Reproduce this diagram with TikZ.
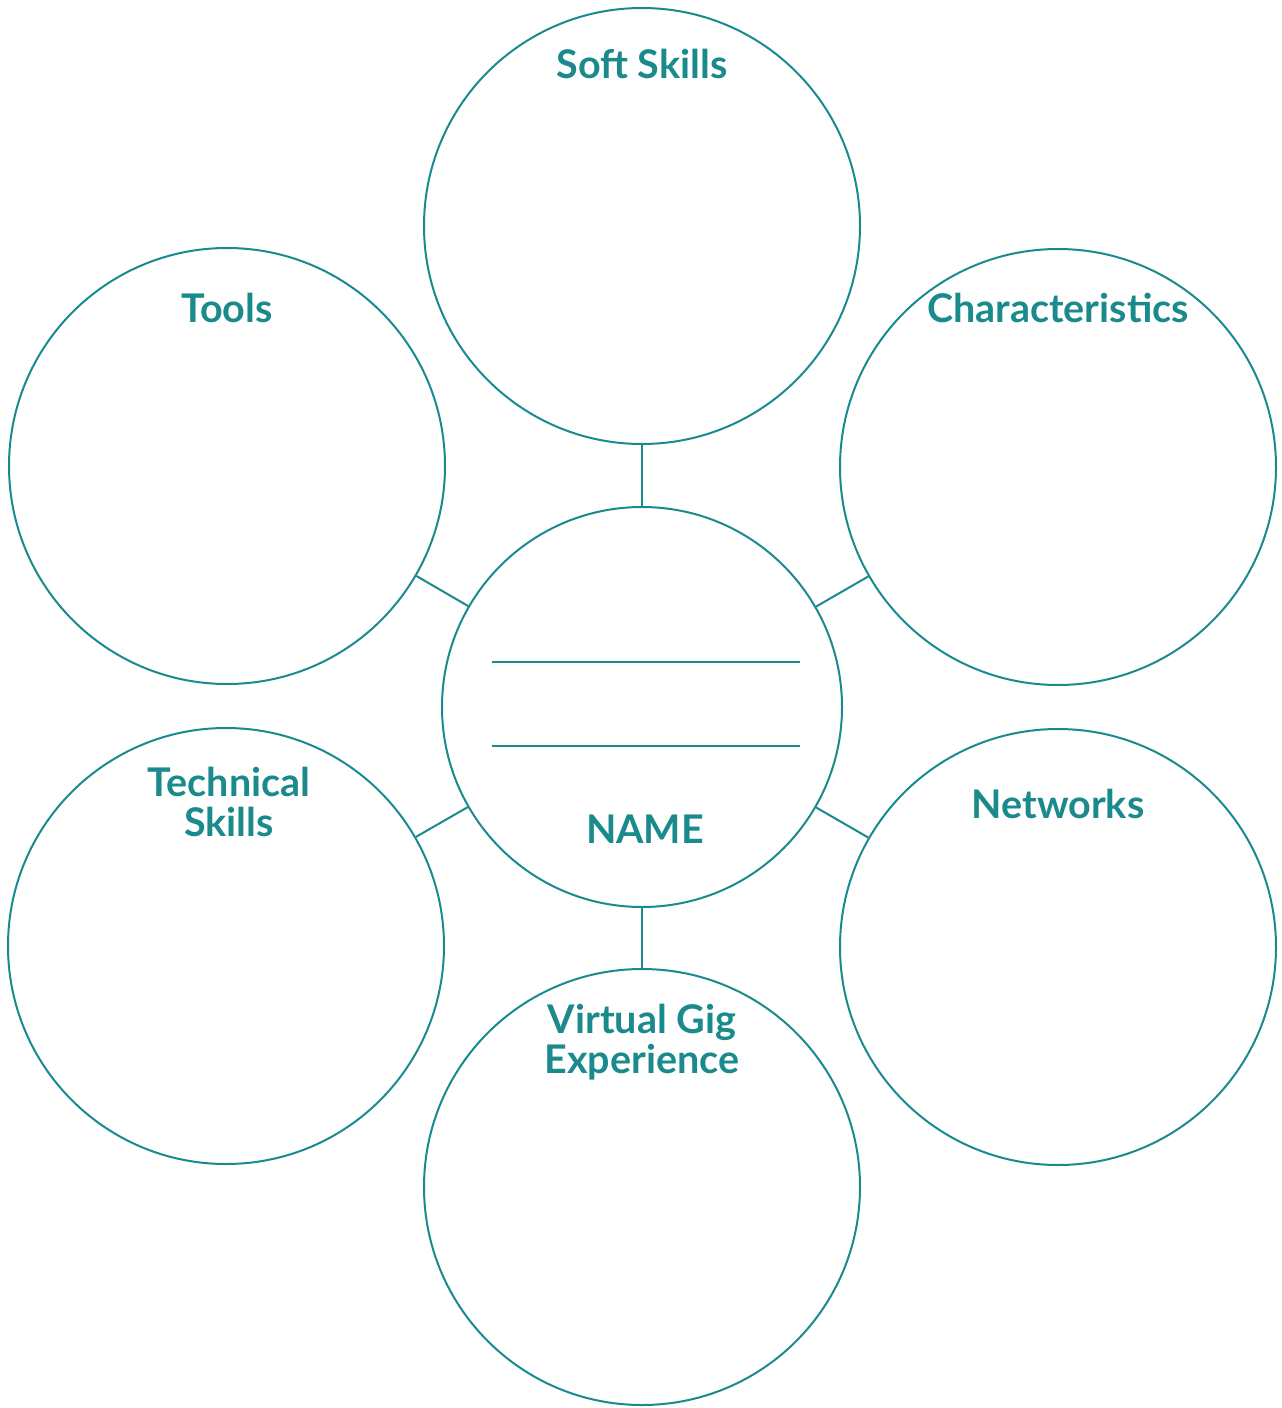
\documentclass[tikz,border=0pt]{standalone}
\usepackage{fontspec}
\setmainfont{Lato}
\definecolor{teal1}{RGB}{26,138,140}
\begin{document}
\begin{tikzpicture}[x=1pt,y=-1pt,
  bubble/.style={circle,draw=teal1,line width=2pt,inner sep=0pt,minimum size=436pt},
  hub/.style={circle,draw=teal1,line width=2pt,inner sep=0pt,minimum size=400pt},
  link/.style={draw=teal1,line width=2pt},
  lbl/.style={text=teal1,font=\fontsize{39.5}{40}\selectfont\bfseries,anchor=base,align=center}]
\useasboundingbox (0,0) rectangle (1282,1408);
\node[hub] (hub) at (642,707) {};
\node[bubble] (soft) at (642,226) {};
\node[bubble] (tools) at (227,466) {};
\node[bubble] (char) at (1058,467) {};
\node[bubble] (tech) at (226,946) {};
\node[bubble] (net) at (1058,947) {};
\node[bubble] (gig) at (642,1187) {};
\draw[link] (hub) -- (soft);
\draw[link] (hub) -- (tools);
\draw[link] (hub) -- (char);
\draw[link] (hub) -- (tech);
\draw[link] (hub) -- (net);
\draw[link] (hub) -- (gig);
\coordinate (l1a) at (492,662); \coordinate (l1b) at (800,662);
\coordinate (l2a) at (492,746); \coordinate (l2b) at (800,746);
\draw[link] (l1a) -- (l1b);
\draw[link] (l2a) -- (l2b);
\node[lbl] (tsoft) at (642,78) {Soft Skills};
\node[lbl] (ttools) at (227,322) {Tools};
\node[lbl] (tchar) at (1058,322) {Characteristics};
\node[lbl] (ttech) at (229,836) {Technical\\Skills};
\node[lbl] (tnet) at (1058,818) {Networks};
\node[lbl] (tgig) at (642,1073) {Virtual Gig\\Experience};
\node[lbl] (tname) at (645,843) {NAME};
\end{tikzpicture}
\end{document}
